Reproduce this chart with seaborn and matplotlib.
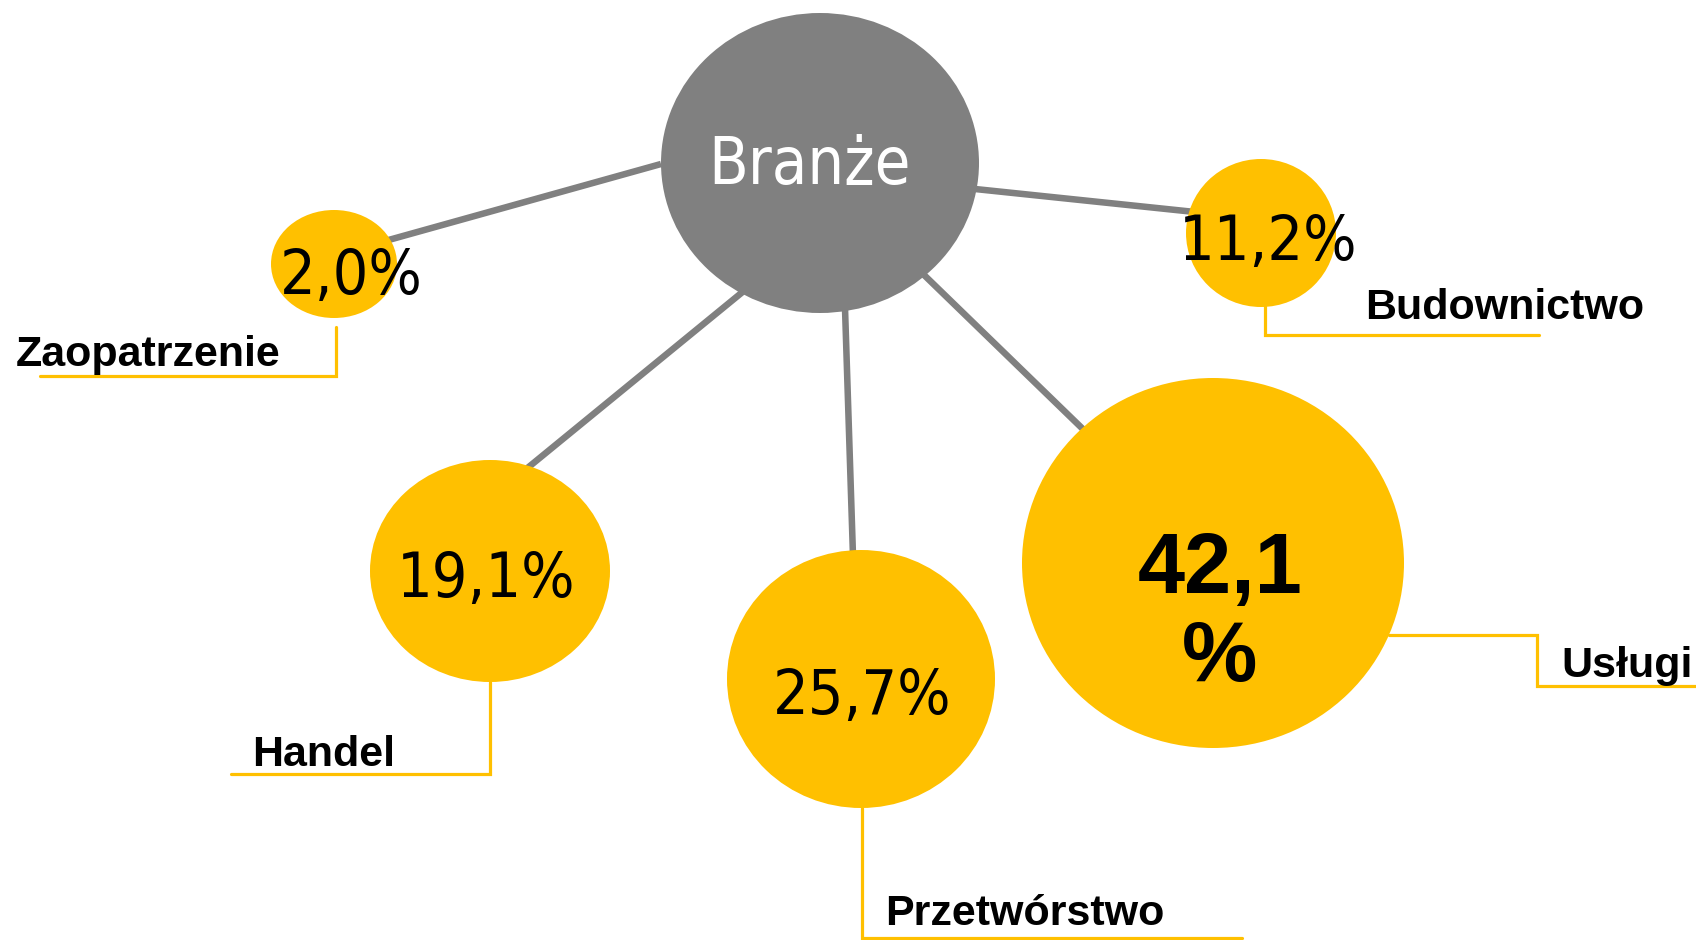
import matplotlib
matplotlib.use("Agg")
import matplotlib.pyplot as plt
from matplotlib.patches import Ellipse
import seaborn as sns

# ---- data ----
center_label = "Branże"
categories = ["Zaopatrzenie", "Budownictwo", "Handel", "Przetwórstwo", "Usługi"]
values = [2.0, 11.2, 19.1, 25.7, 42.1]
highlight = "Usługi"

# ---- style ----
sns.set_theme(style="white")
plt.rcParams["font.family"] = ["DejaVu Sans"]
YELLOW = "#FFC000"
GRAY = "#808080"

# ---- layout (pixel space of a 1696x940 canvas) ----
hub = dict(cx=820, cy=163, rx=159, ry=150, tx=810, ty=184)
nodes = {
    "Zaopatrzenie": dict(cx=334, cy=264, rx=63, ry=54, tx=351, ty=294,
                         line=((661, 164), (385, 241)),
                         leader=[(336, 327), (336, 376), (40, 376)],
                         lx=16, ly=366),
    "Budownictwo": dict(cx=1261, cy=233, rx=75, ry=74, tx=1268, ty=260,
                        line=((975, 189), (1195, 212)),
                        leader=[(1265, 306), (1265, 335), (1539, 335)],
                        lx=1365, ly=319),
    "Handel": dict(cx=490, cy=571, rx=120, ry=111, tx=486, ty=597,
                   line=((745, 290), (525, 470)),
                   leader=[(490, 682), (490, 774), (231, 774)],
                   lx=252, ly=766),
    "Przetwórstwo": dict(cx=861, cy=679, rx=134, ry=129, tx=862, ty=714,
                         line=((845, 308), (853, 556)),
                         leader=[(862, 808), (862, 938), (1242, 938)],
                         lx=885, ly=925),
    "Usługi": dict(cx=1213, cy=563, rx=191, ry=185, tx=1220, ty=593, ty2=681,
                   line=((922, 273), (1088, 434)),
                   leader=[(1389, 635), (1537, 635), (1537, 686), (1696, 686)],
                   lx=1561, ly=677),
}

fig = plt.figure(figsize=(16.96, 9.40), dpi=100)
ax = fig.add_axes([0, 0, 1, 1])
ax.set_xlim(0, 1696)
ax.set_ylim(940, 0)
ax.set_axis_off()

# connectors
for cat in categories:
    (x0, y0), (x1, y1) = nodes[cat]["line"]
    ax.plot([x0, x1], [y0, y1], color=GRAY, lw=4.7, solid_capstyle="butt", zorder=1)

# hub
ax.add_patch(Ellipse((hub["cx"], hub["cy"]), 2 * hub["rx"], 2 * hub["ry"],
                     facecolor=GRAY, edgecolor="none", zorder=2))
ax.text(hub["tx"], hub["ty"], center_label, color="white", fontsize=46.5,
        fontstretch="condensed", ha="center", va="baseline", zorder=3)

# nodes
for cat, val in zip(categories, values):
    n = nodes[cat]
    ax.add_patch(Ellipse((n["cx"], n["cy"]), 2 * n["rx"], 2 * n["ry"],
                         facecolor=YELLOW, edgecolor="none", zorder=2))
    num = f"{val:.1f}".replace(".", ",")
    if cat == highlight:
        ax.text(n["tx"], n["ty"], num, fontsize=61, fontweight="bold",
                family=["Liberation Sans"], ha="center", va="baseline",
                color="black", zorder=3)
        ax.text(n["tx"], n["ty2"], "%", fontsize=61, fontweight="bold",
                family=["Liberation Sans"], ha="center", va="baseline",
                color="black", zorder=3)
    else:
        ax.text(n["tx"], n["ty"], num + "%", fontsize=45, fontstretch="condensed",
                ha="center", va="baseline", color="black", zorder=3)
    xs = [p[0] for p in n["leader"]]
    ys = [p[1] for p in n["leader"]]
    ax.plot(xs, ys, color=YELLOW, lw=2.3, zorder=1, solid_joinstyle="miter")
    ax.text(n["lx"], n["ly"], cat, fontsize=31, fontweight="bold",
            family=["Liberation Sans"], ha="left", va="baseline",
            color="black", zorder=3)

fig.savefig("out.png", dpi=100, facecolor="white")
